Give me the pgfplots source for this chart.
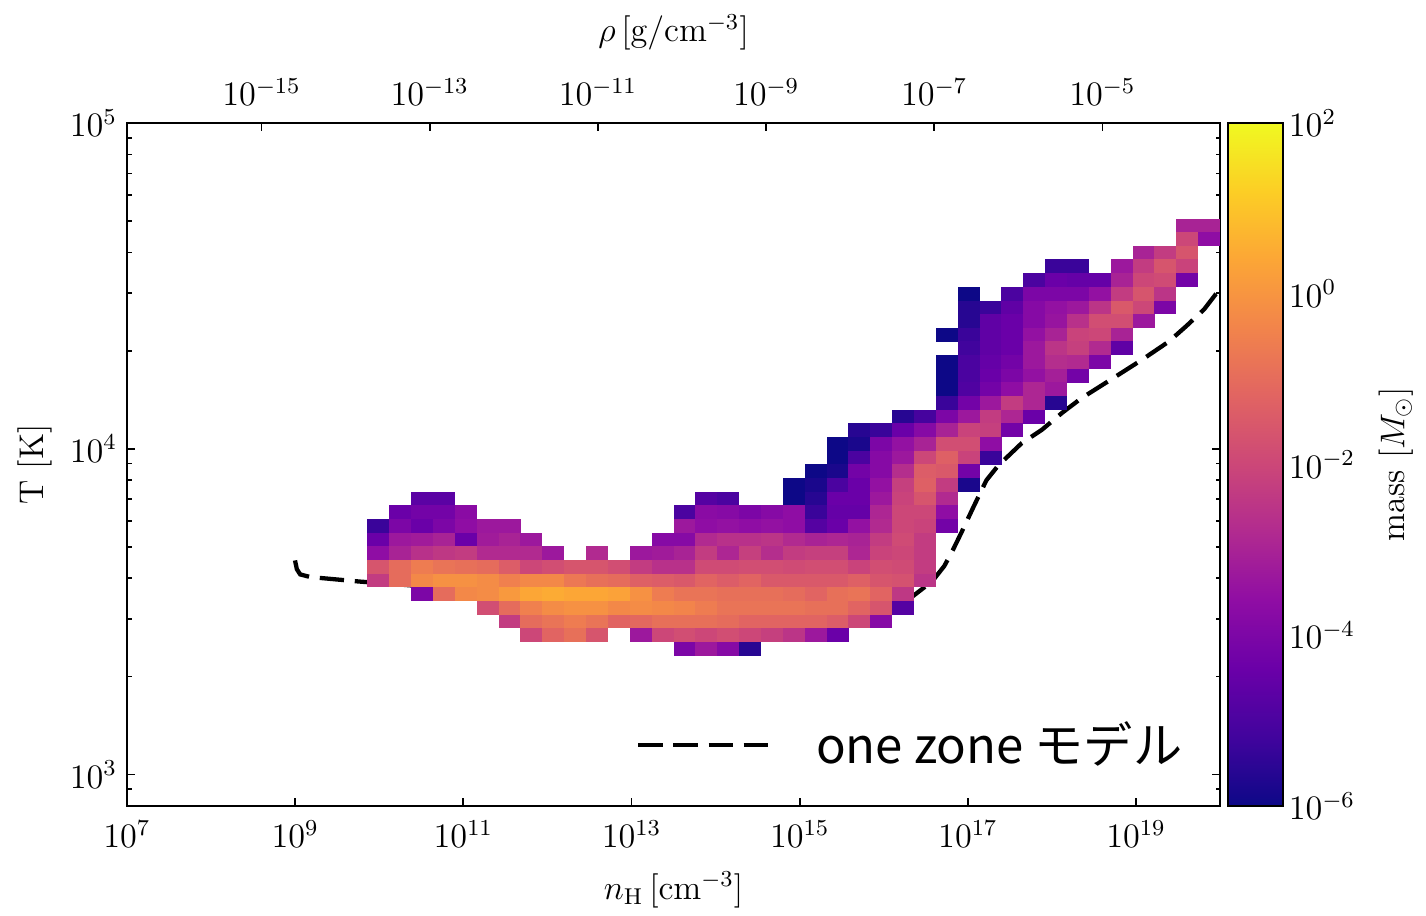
\documentclass[border=0pt]{standalone}
\usepackage{fontspec}
\usepackage{pgfplots}
\usepackage{pgfplotstable}
\pgfplotsset{compat=1.18}
\newfontfamily\cjk{Noto Sans CJK JP}
\pgfdeclareplotmark{cell}{\pgfpathrectangle{\pgfpoint{-3.85pt}{-2.415pt}}{\pgfpoint{7.70pt}{4.83pt}}\pgfusepathqfill}
\pgfplotsset{colormap={plasma}{rgb255=(13,8,135) rgb255=(65,4,157) rgb255=(106,0,168) rgb255=(143,13,164) rgb255=(177,42,144) rgb255=(204,71,120) rgb255=(225,100,98) rgb255=(242,132,75) rgb255=(252,166,54) rgb255=(252,206,37) rgb255=(240,249,33)}}
\begin{document}
\pgfplotstableread{
x y v
9.99 3.7628 -5.3
9.99 3.7209 -4.4
9.99 3.6789 -3.6
9.99 3.6370 -1.6
9.99 3.5951 -2.3
10.25 3.8047 -4.4
10.25 3.7628 -4.0
10.25 3.7209 -3.3
10.25 3.6789 -3.0
10.25 3.6370 -1.0
10.25 3.5951 -1.0
10.51 3.8467 -4.7
10.51 3.8047 -4.2
10.51 3.7628 -4.4
10.51 3.7209 -3.2
10.51 3.6789 -2.6
10.51 3.6370 -0.6
10.51 3.5951 -0.3
10.51 3.5531 -4.0
10.77 3.8467 -4.7
10.77 3.8047 -4.2
10.77 3.7628 -4.0
10.77 3.7209 -3.0
10.77 3.6789 -2.4
10.77 3.6370 -0.8
10.77 3.5951 -0.1
10.77 3.5531 -1.0
11.03 3.8047 -3.7
11.03 3.7628 -3.6
11.03 3.7209 -4.4
11.03 3.6789 -2.3
11.03 3.6370 -0.9
11.03 3.5951 -0.1
11.03 3.5531 -0.3
11.29 3.7628 -3.3
11.29 3.7209 -3.2
11.29 3.6789 -2.8
11.29 3.6370 -1.0
11.29 3.5951 -0.2
11.29 3.5531 -0.2
11.29 3.5112 -1.8
11.55 3.7628 -3.3
11.55 3.7209 -3.0
11.55 3.6789 -2.8
11.55 3.6370 -1.4
11.55 3.5951 -0.5
11.55 3.5531 0.1
11.55 3.5112 -1.0
11.55 3.4692 -2.3
11.81 3.7209 -3.3
11.81 3.6789 -2.8
11.81 3.6370 -2.0
11.81 3.5951 -0.3
11.81 3.5531 0.4
11.81 3.5112 -0.5
11.81 3.4692 -1.0
11.81 3.4273 -2.0
12.07 3.6789 -3.3
12.07 3.6370 -1.8
12.07 3.5951 -0.3
12.07 3.5531 0.5
12.07 3.5112 -0.2
12.07 3.4692 -0.8
12.07 3.4273 -1.2
12.33 3.6370 -1.6
12.33 3.5951 -0.7
12.33 3.5531 0.4
12.33 3.5112 -0.1
12.33 3.4692 -0.6
12.33 3.4273 -0.9
12.59 3.6789 -2.8
12.59 3.6370 -1.6
12.59 3.5951 -0.9
12.59 3.5531 0.4
12.59 3.5112 -0.1
12.59 3.4692 -0.8
12.59 3.4273 -1.6
12.85 3.6370 -1.8
12.85 3.5951 -1.0
12.85 3.5531 0.3
12.85 3.5112 -0.3
12.85 3.4692 -1.2
13.11 3.6789 -3.3
13.11 3.6370 -2.3
13.11 3.5951 -1.3
13.11 3.5531 -0.1
13.11 3.5112 -0.2
13.11 3.4692 -1.1
13.11 3.4273 -3.3
13.37 3.7209 -3.8
13.37 3.6789 -3.2
13.37 3.6370 -2.6
13.37 3.5951 -1.4
13.37 3.5531 -0.6
13.37 3.5112 -0.3
13.37 3.4692 -0.9
13.37 3.4273 -2.0
13.63 3.8047 -5.0
13.63 3.7628 -3.3
13.63 3.7209 -3.8
13.63 3.6789 -3.0
13.63 3.6370 -2.6
13.63 3.5951 -1.5
13.63 3.5531 -0.8
13.63 3.5112 -0.4
13.63 3.4692 -0.9
13.63 3.4273 -1.8
13.63 3.3854 -4.0
13.89 3.8467 -4.8
13.89 3.8047 -3.7
13.89 3.7628 -3.6
13.89 3.7209 -2.8
13.89 3.6789 -2.3
13.89 3.6370 -1.9
13.89 3.5951 -1.2
13.89 3.5531 -0.8
13.89 3.5112 -0.6
13.89 3.4692 -0.9
13.89 3.4273 -2.0
13.89 3.3854 -3.3
14.15 3.8467 -5.0
14.15 3.8047 -3.8
14.15 3.7628 -3.5
14.15 3.7209 -2.6
14.15 3.6789 -2.9
14.15 3.6370 -1.9
14.15 3.5951 -1.4
14.15 3.5531 -0.9
14.15 3.5112 -0.8
14.15 3.4692 -1.0
14.15 3.4273 -1.8
14.15 3.3854 -3.8
14.41 3.8047 -4.0
14.41 3.7628 -3.6
14.41 3.7209 -2.6
14.41 3.6789 -2.2
14.41 3.6370 -1.8
14.41 3.5951 -1.2
14.41 3.5531 -0.9
14.41 3.5112 -0.8
14.41 3.4692 -1.2
14.41 3.4273 -2.0
14.41 3.3854 -5.6
14.67 3.8047 -3.8
14.67 3.7628 -3.5
14.67 3.7209 -2.5
14.67 3.6789 -2.7
14.67 3.6370 -1.8
14.67 3.5951 -1.5
14.67 3.5531 -0.9
14.67 3.5112 -0.8
14.67 3.4692 -1.2
14.67 3.4273 -2.2
14.93 3.8886 -6.0
14.93 3.8467 -6.0
14.93 3.8047 -3.6
14.93 3.7628 -3.6
14.93 3.7209 -2.8
14.93 3.6789 -2.3
14.93 3.6370 -1.9
14.93 3.5951 -1.5
14.93 3.5531 -1.0
14.93 3.5112 -0.8
14.93 3.4692 -1.2
14.93 3.4273 -2.5
15.19 3.9306 -6.0
15.19 3.8886 -5.8
15.19 3.8467 -5.6
15.19 3.8047 -5.3
15.19 3.7628 -4.8
15.19 3.7209 -3.0
15.19 3.6789 -2.2
15.19 3.6370 -1.8
15.19 3.5951 -1.5
15.19 3.5531 -1.2
15.19 3.5112 -0.9
15.19 3.4692 -1.2
15.19 3.4273 -3.3
15.45 4.0144 -6.0
15.45 3.9725 -6.0
15.45 3.9306 -5.8
15.45 3.8886 -5.0
15.45 3.8467 -4.4
15.45 3.8047 -4.5
15.45 3.7628 -4.4
15.45 3.7209 -2.9
15.45 3.6789 -2.2
15.45 3.6370 -1.8
15.45 3.5951 -1.5
15.45 3.5531 -0.9
15.45 3.5112 -0.9
15.45 3.4692 -1.4
15.45 3.4273 -4.4
15.71 4.0564 -5.6
15.71 4.0144 -5.8
15.71 3.9725 -5.0
15.71 3.9306 -4.2
15.71 3.8886 -4.4
15.71 3.8467 -4.4
15.71 3.8047 -4.5
15.71 3.7628 -3.5
15.71 3.7209 -3.0
15.71 3.6789 -2.9
15.71 3.6370 -2.1
15.71 3.5951 -1.3
15.71 3.5531 -0.8
15.71 3.5112 -1.2
15.71 3.4692 -2.0
15.97 4.0564 -5.3
15.97 4.0144 -4.0
15.97 3.9725 -3.8
15.97 3.9306 -3.8
15.97 3.8886 -3.5
15.97 3.8467 -3.3
15.97 3.8047 -2.9
15.97 3.7628 -2.8
15.97 3.7209 -2.3
15.97 3.6789 -2.1
15.97 3.6370 -1.8
15.97 3.5951 -1.6
15.97 3.5531 -1.2
15.97 3.5112 -1.6
15.97 3.4692 -3.8
16.23 4.0983 -5.6
16.23 4.0564 -4.4
16.23 4.0144 -3.5
16.23 3.9725 -3.3
16.23 3.9306 -2.7
16.23 3.8886 -2.2
16.23 3.8467 -2.1
16.23 3.8047 -2.0
16.23 3.7628 -2.0
16.23 3.7209 -1.9
16.23 3.6789 -2.0
16.23 3.6370 -1.9
16.23 3.5951 -1.7
16.23 3.5531 -2.4
16.23 3.5112 -4.8
16.49 4.0983 -5.1
16.49 4.0564 -3.8
16.49 4.0144 -3.0
16.49 3.9725 -2.0
16.49 3.9306 -1.4
16.49 3.8886 -1.3
16.49 3.8467 -1.6
16.49 3.8047 -2.0
16.49 3.7628 -2.1
16.49 3.7209 -2.3
16.49 3.6789 -2.3
16.49 3.6370 -2.3
16.49 3.5951 -2.5
16.75 4.3500 -6.0
16.75 4.2661 -6.0
16.75 4.2241 -6.0
16.75 4.1822 -6.0
16.75 4.1403 -5.3
16.75 4.0983 -4.0
16.75 4.0564 -3.0
16.75 4.0144 -1.8
16.75 3.9725 -1.3
16.75 3.9306 -1.5
16.75 3.8886 -2.3
16.75 3.8467 -2.8
16.75 3.8047 -3.6
16.75 3.7628 -4.2
17.01 4.4758 -6.0
17.01 4.4338 -5.6
17.01 4.3919 -5.6
17.01 4.3500 -5.3
17.01 4.3080 -5.2
17.01 4.2661 -5.0
17.01 4.2241 -5.0
17.01 4.1822 -4.9
17.01 4.1403 -4.2
17.01 4.0983 -3.3
17.01 4.0564 -2.1
17.01 4.0144 -1.8
17.01 3.9725 -2.1
17.01 3.9306 -4.2
17.01 3.8886 -5.8
17.27 4.4338 -5.3
17.27 4.3919 -4.6
17.27 4.3500 -4.6
17.27 4.3080 -4.6
17.27 4.2661 -4.5
17.27 4.2241 -4.4
17.27 4.1822 -4.2
17.27 4.1403 -3.3
17.27 4.0983 -2.3
17.27 4.0564 -2.2
17.27 4.0144 -3.6
17.27 3.9725 -5.3
17.53 4.4758 -5.0
17.53 4.4338 -4.6
17.53 4.3919 -4.4
17.53 4.3500 -4.4
17.53 4.3080 -4.4
17.53 4.2661 -4.2
17.53 4.2241 -4.0
17.53 4.1822 -3.6
17.53 4.1403 -2.3
17.53 4.0983 -2.9
17.53 4.0564 -4.2
17.79 4.5177 -5.0
17.79 4.4758 -4.0
17.79 4.4338 -3.8
17.79 4.3919 -3.8
17.79 4.3500 -3.5
17.79 4.3080 -3.3
17.79 4.2661 -3.3
17.79 4.2241 -3.5
17.79 4.1822 -2.9
17.79 4.1403 -2.9
17.79 4.0983 -4.4
18.05 4.5597 -5.3
18.05 4.5177 -4.4
18.05 4.4758 -4.0
18.05 4.4338 -3.5
18.05 4.3919 -3.4
18.05 4.3500 -3.0
18.05 4.3080 -2.5
18.05 4.2661 -2.7
18.05 4.2241 -3.1
18.05 4.1822 -3.3
18.05 4.1403 -5.6
18.31 4.5597 -5.3
18.31 4.5177 -4.5
18.31 4.4758 -4.0
18.31 4.4338 -3.3
18.31 4.3919 -2.6
18.31 4.3500 -2.1
18.31 4.3080 -2.2
18.31 4.2661 -2.8
18.31 4.2241 -4.2
18.57 4.5177 -4.5
18.57 4.4758 -3.5
18.57 4.4338 -2.5
18.57 4.3919 -1.8
18.57 4.3500 -2.0
18.57 4.3080 -2.8
18.57 4.2661 -4.0
18.83 4.5597 -3.3
18.83 4.5177 -3.0
18.83 4.4758 -2.3
18.83 4.4338 -1.5
18.83 4.3919 -1.8
18.83 4.3500 -3.0
18.83 4.3080 -4.6
19.09 4.6016 -3.0
19.09 4.5597 -2.3
19.09 4.5177 -2.0
19.09 4.4758 -1.6
19.09 4.4338 -2.0
19.09 4.3919 -3.3
19.35 4.6016 -2.3
19.35 4.5597 -1.6
19.35 4.5177 -1.9
19.35 4.4758 -2.5
19.35 4.4338 -4.0
19.61 4.6855 -3.0
19.61 4.6435 -2.0
19.61 4.6016 -1.6
19.61 4.5597 -2.1
19.61 4.5177 -4.2
19.87 4.6855 -3.0
19.87 4.6435 -3.6
}\cells
\pgfplotstableread{
x y
8.998 3.657
9.02 3.630
9.06 3.614
9.18 3.606
9.77 3.592
10.50 3.578
11.00 3.565
11.53 3.546
12.00 3.536
12.63 3.528
12.70 3.534
12.75 3.523
12.80 3.531
12.85 3.521
12.90 3.528
12.95 3.518
13.00 3.525
13.05 3.516
13.10 3.522
13.15 3.514
13.22 3.514
13.80 3.500
14.30 3.491
14.71 3.486
15.20 3.485
15.66 3.491
15.90 3.499
16.10 3.512
16.25 3.528
16.37 3.552
16.50 3.578
16.61 3.604
16.72 3.640
16.82 3.688
16.92 3.741
17.07 3.823
17.22 3.903
17.36 3.948
17.64 4.017
17.88 4.058
18.12 4.110
18.35 4.155
18.73 4.217
19.07 4.273
19.39 4.329
19.60 4.377
19.81 4.428
19.95 4.475
20.00 4.490
}\onezone
\begin{tikzpicture}[font=\fontsize{12}{14.4}\selectfont]
\begin{axis}[
  name=main,
  scale only axis, width=382.6pt, height=239.05pt,
  xmin=7, xmax=20, ymin=2.90309, ymax=5,
  axis on top,
  axis line style={line width=0.7pt},
  every tick/.style={black, line width=0.6pt},
  tick align=inside,
  major tick length=2.8pt, minor tick length=1.6pt,
  xtick={7,9,11,13,15,17,19},
  xticklabels={$10^{7}$,$10^{9}$,$10^{11}$,$10^{13}$,$10^{15}$,$10^{17}$,$10^{19}$},
  xticklabel style={yshift=-1.5pt},
  xtick pos=left,
  ytick={3,4,5}, yticklabels={$10^{3}$,$10^{4}$,$10^{5}$},
  minor ytick={2.9542,3.3010,3.4771,3.6021,3.6990,3.7782,3.8451,3.9031,3.9542,4.3010,4.4771,4.6021,4.6990,4.7782,4.8451,4.9031,4.9542},
  ytick pos=both,
  xlabel={$n_{\mathrm{H}}\,[\mathrm{cm}^{-3}]$},
  xlabel style={at={(axis description cs:0.5,-0.123)}, anchor=center},
  ylabel={T [K]},
  ylabel style={at={(axis description cs:-0.0842,0.5)}, anchor=center},
  colormap name=plasma,
  point meta min=-6, point meta max=2,
  colorbar right,
  colorbar/width=19.25pt,
  colorbar shift/.style={xshift=2.8pt},
  colorbar style={
    at={(parent axis.north east)}, anchor=north west,
    scale only axis, width=19.25pt, height=239.05pt,
    ytick={-6,-4,-2,0,2},
    yticklabels={$10^{-6}$,$10^{-4}$,$10^{-2}$,$10^{0}$,$10^{2}$},
    yticklabel pos=right,
    yticklabel style={xshift=-1.5pt},
    major tick length=0pt,
    axis line style={line width=0.7pt},
    ylabel={mass $[M_\odot]$},
    ylabel style={at={(axis description cs:3.05,0.5)}, anchor=center},
  },
  legend style={at={(rel axis cs:0.4657,0.0893)}, anchor=west, draw=none, fill=none,
    inner sep=0pt, outer sep=0pt, column sep=12.5pt,
    font=\fontsize{17.2}{20.6}\selectfont\cjk},
  legend image code/.code={\draw[#1] (0pt,0pt) -- (47pt,0pt);},
]
\addplot[scatter, only marks, mark=cell, point meta=explicit,
  scatter/use mapped color={draw=mapped color, fill=mapped color}, forget plot]
  table[x=x, y=y, meta=v] {\cells};
\addplot[black, line width=1.5pt, dash pattern=on 8.5pt off 3.8pt] table[x=x, y=y] {\onezone};
\addlegendentry{\cjk one zone モデル}
\end{axis}
\begin{axis}[
  at={(main.south west)}, anchor=south west,
  scale only axis, width=382.6pt, height=239.05pt,
  xmin=-16.60, xmax=-3.60, ymin=0, ymax=1,
  axis x line=top, axis y line=none,
  x axis line style={-},
  axis line style={line width=0.7pt},
  every tick/.style={black, line width=0.6pt},
  tick align=inside, major tick length=2.8pt,
  xtick={-15,-13,-11,-9,-7,-5},
  xticklabels={$10^{-15}$,$10^{-13}$,$10^{-11}$,$10^{-9}$,$10^{-7}$,$10^{-5}$},
  xticklabel style={yshift=2.5pt},
  xlabel={$\rho\,[\mathrm{g/cm^{-3}}]$},
  xlabel style={at={(axis description cs:0.5,1.133)}, anchor=center},
]
\end{axis}
\pgfresetboundingbox
\path (main.south west) ++(-44.45pt,-38.5pt) rectangle ++(499.1pt,320.6pt);
\end{tikzpicture}
\end{document}
